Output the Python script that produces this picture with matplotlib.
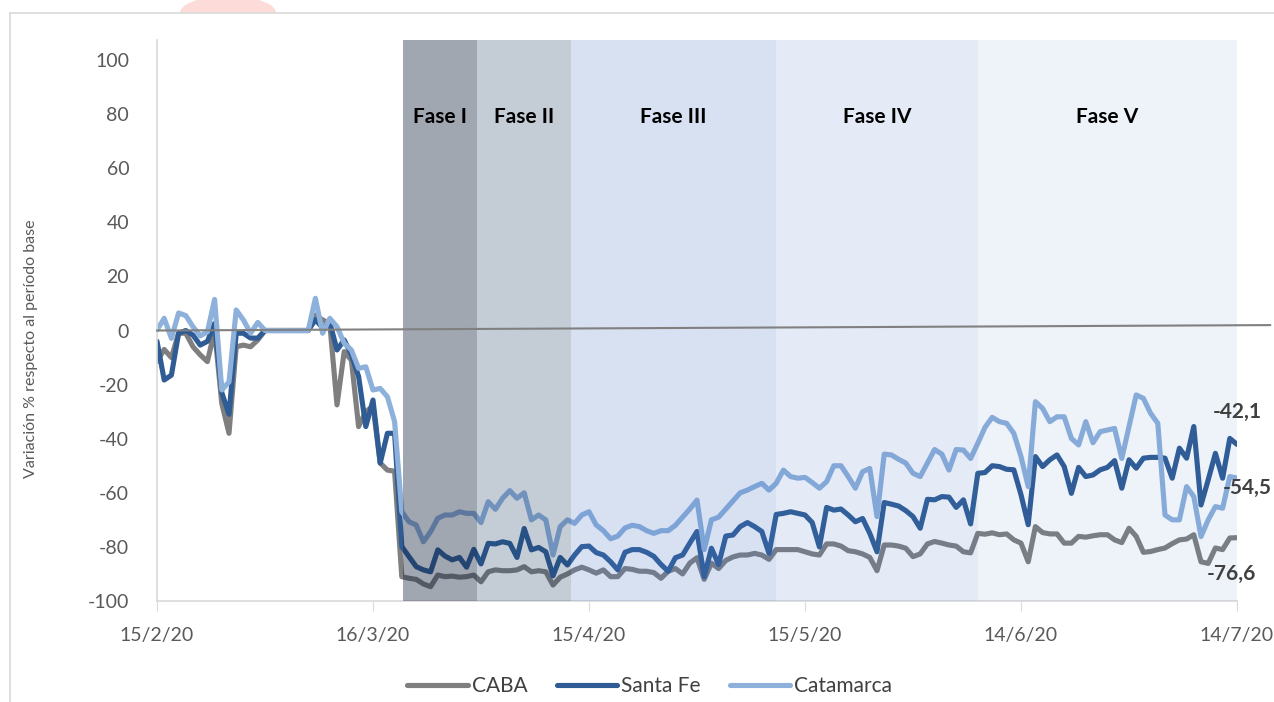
#Importar módulos
import numpy as np
import matplotlib.pyplot as plt
from matplotlib.lines import Line2D
from matplotlib.patches import Polygon

plt.rcParams['font.family'] = ['Lato', 'DejaVu Sans']
plt.rcParams['axes.unicode_minus'] = False

#Datos (día 0 = 15/2/20)
fechas = ['15/2/20', '16/3/20', '15/4/20', '15/5/20', '14/6/20', '14/7/20']
dias_ticks = [0, 30, 60, 90, 120, 150]
fases = ['Fase I', 'Fase II', 'Fase III', 'Fase IV', 'Fase V']
limites_fases = [34.2, 44.4, 57.5, 86.0, 114.0, 150.0]
linea_base = [0, 2]

caba = [-11.5, -7, -10, -1, -1, -6, -9, -11.5, 0, -27, -38, -6, -5.4, -6, -3.5, 0,
        0, 0, 0, 0, 0, 0,
        5.7, 3.9, 2.6, -27.5, -7.8, -11, -35.5, -30, -28, -49, -51.6, -52,
        -91, -91.6, -92, -93.7, -94.7, -90.4, -91, -90.8, -91.2, -91, -90.4, -92.9, -89.2, -88.5,
        -88.8, -88.8, -88.5, -87.3, -89.2, -88.8, -89.2, -94.1, -91.2, -90, -88.5, -87.5, -88.5, -89.7,
        -88.5, -91, -91, -88, -88.3, -89, -89, -89.5, -91.6, -89, -88, -90, -86, -84,
        -92, -86, -88, -85, -83.7, -83, -83, -82.4, -83, -84.6, -81, -81, -81, -81,
        -81.8, -82.6, -83, -78.9, -78.9, -79.7, -81.4, -81.8, -82.6, -83.9, -88.8, -79.3, -79.3, -79.7,
        -80.5, -83.6, -82.6, -78.9, -78, -78.6, -79.3, -79.7, -81.8, -82.2, -75, -75.3, -74.8,
        -75.5, -75.2, -77.4, -78.6, -85.5, -72.5, -74.7, -75.2, -75.2, -78.6, -78.6, -76.1, -76.4, -75.9,
        -75.5, -75.5, -77.4, -78.4, -73.1, -76.1, -82, -81.7, -81, -80.4, -78.8, -77.4, -77.1, -75.5,
        -85.5, -86.1, -80.4, -81, -76.7, -76.6]

santa_fe = [-4, -18.3, -16.5, -1, 0, -1.7, -5.4, -4, 2.6, -23, -31, -1, -1, -2.8, -2.8, 0,
            0, 0, 0, 0, 0, 0,
            4, 1, 3, -7.2, -3.5, -9, -17, -35.5, -25.7, -49, -38, -38,
            -79.9, -83.6, -87.3, -88.5, -89.2, -81.1, -83.4, -84.8, -83.9, -87.5, -80.9, -86.3, -78.7, -78.9,
            -78.1, -78.7, -83.9, -73.2, -81.1, -80.2, -81.8, -90.7, -83.9, -86.7, -83, -79.9, -79.7, -82.1,
            -83, -85.5, -88.5, -82, -81, -81, -82, -83.5, -86.5, -89, -84, -83, -78.6, -74.3,
            -91, -80.5, -86.5, -76, -75.6, -72.5, -71, -72.5, -74.3, -82.4, -68, -67.6, -67, -67.6,
            -68.2, -71, -80, -65.4, -66.4, -66, -68.2, -70.7, -69.5, -75, -81.8, -63.6, -64.2, -64.9,
            -66.6, -68.8, -73.1, -62.4, -62.6, -61.4, -61.6, -65.4, -62.6, -71.5, -52.8, -52.5, -50,
            -50.3, -51.3, -51.5, -60.7, -71.8, -46.6, -50.3, -47.8, -46, -50.3, -60.2, -50.6, -54, -53.4,
            -51.5, -50.6, -48.1, -58.3, -47.8, -50.9, -47.2, -46.9, -46.9, -47.2, -54.6, -43.5, -47.2, -35.5,
            -64.5, -55.2, -45.4, -54.6, -39.9, -42.1]

catamarca = [0.2, 4.5, -2.9, 6.5, 5.5, 1.4, -2, -0.5, 11.5, -22, -19, 7.6, 3.9, -1, 3, 0,
             0, 0, 0, 0, 0, 0,
             11.9, -1, 4.5, 1.4, -4.7, -7.2, -14, -13.4, -22, -21.4, -24.5, -33.7,
             -67, -70.7, -71.9, -78.1, -74.4, -69.4, -68.2, -68.2, -67, -67.6, -67.6, -71, -63.3, -66.1,
             -62, -59.2, -62, -60, -70, -68.2, -70, -83, -72.5, -70, -71.3, -68.2, -67, -71.9,
             -74, -77, -76, -73, -72, -72.5, -74, -75, -74, -74, -72, -69, -66, -62.7,
             -81, -70, -69, -66, -63, -60, -59, -57.7, -56.5, -59, -56.5, -51.6, -54, -54.6,
             -54.3, -56.2, -58.3, -55.9, -50, -50, -54, -58.3, -52.2, -51, -68.8, -45.7, -46, -47.6,
             -49, -52.8, -54, -49, -44, -45.7, -51.6, -44, -44.2, -47.3, -41.7, -35.8, -32.1,
             -33.7, -34.3, -38, -46.6, -57.7, -26.3, -28.8, -33.7, -31.9, -31.9, -39.9, -42.3, -33.7, -41.5,
             -37.4, -36.8, -36.2, -47.3, -35.5, -23.8, -25.1, -30.6, -34.3, -68.2, -70, -70, -57.7, -61.4,
             -76.2, -70, -65.1, -65.7, -54, -54.5]

dias = np.arange(len(caba))

#Figura
fig = plt.figure(figsize=(12.74, 7.02), dpi=100)
ax = fig.add_axes([157/1274, 1 - 601/702, 1080/1274, 561/702])

series = [(caba, 'CABA', '#7f7f7f'), (santa_fe, 'Santa Fe', '#2f5c94'), (catamarca, 'Catamarca', '#8eb1dc')]
for datos, nombre, color in series:
    ax.plot(dias, datos, color=color, lw=3.7, label=nombre, zorder=2,
            solid_joinstyle='round', solid_capstyle='round')

#Sombreado de fases (encima de las líneas, semitransparente)
colores_fases = [('#15233e', 0.40), ('#17375f', 0.25), ('#4472c4', 0.21), ('#4472c4', 0.14), ('#4472c4', 0.085)]
for i, nombre in enumerate(fases):
    c, a = colores_fases[i]
    ax.axvspan(limites_fases[i], limites_fases[i + 1], color=c, alpha=a, lw=0, zorder=3)
    ax.text((limites_fases[i] + limites_fases[i + 1]) / 2, 79, nombre, ha='center', va='center',
            fontsize=15, fontweight='bold', color='black', zorder=5)

#Línea de referencia
ax.plot([0, 154.6], linea_base, color='#808080', lw=1.5, clip_on=False, zorder=4)

#Etiquetas de valor final
estilo = dict(textcoords='offset pixels', ha='center', va='center', fontsize=15,
              fontweight='bold', color='#404040', zorder=6)
ax.annotate(f'{santa_fe[-1]:.1f}'.replace('.', ','), xy=(dias[-1], santa_fe[-1]), xytext=(0, 32), **estilo)
ax.annotate(f'{catamarca[-1]:.1f}'.replace('.', ','), xy=(dias[-1], catamarca[-1]), xytext=(10, -10), **estilo)
ax.annotate(f'{caba[-1]:.1f}'.replace('.', ','), xy=(dias[-1], caba[-1]), xytext=(-6, -36), **estilo)

#Ejes
ax.set_xlim(0, 150)
ax.set_ylim(-100, 107.4)
ax.set_xticks(dias_ticks)
ax.set_xticklabels(fechas)
ax.set_yticks(range(-100, 101, 20))
ax.set_yticklabels([str(v) for v in range(-100, 101, 20)])
ax.tick_params(axis='x', direction='out', length=7, color='#d9d9d9', labelcolor='#595959', labelsize=14, pad=12)
ax.tick_params(axis='y', length=0, labelcolor='#595959', labelsize=14, pad=20)
for s in ['top', 'right']:
    ax.spines[s].set_visible(False)
for s in ['left', 'bottom']:
    ax.spines[s].set_color('#d9d9d9')
    ax.spines[s].set_linewidth(1.2)
ax.set_ylabel('Variación % respecto al período base', fontsize=11.5, color='#595959')
ax.yaxis.set_label_coords(-0.110, 0.45)

#Leyenda
fig.legend(loc='center', bbox_to_anchor=(0.51, 1 - 686/702), ncol=3, frameon=False, fontsize=15,
           handlelength=2.9, handletextpad=0.2, columnspacing=1.4, labelcolor='#404040')

#Marco del gráfico y mancha superior (media elipse por encima del marco)
t = np.linspace(0, np.pi, 60)
mancha_xy = np.column_stack([(228 + 48 * np.cos(t)) / 1274, 1 - (13 - 17 * np.sin(t)) / 702])
fig.add_artist(Polygon(mancha_xy, closed=True, transform=fig.transFigure, color='#fddbd8', lw=0))
fig.add_artist(Line2D([10/1274, 1], [1 - 13/702, 1 - 13/702], transform=fig.transFigure, color='#d9d9d9', lw=1.2))
fig.add_artist(Line2D([10/1274, 10/1274], [0, 1 - 13/702], transform=fig.transFigure, color='#d9d9d9', lw=1.2))

plt.savefig('out.png', dpi=100)
